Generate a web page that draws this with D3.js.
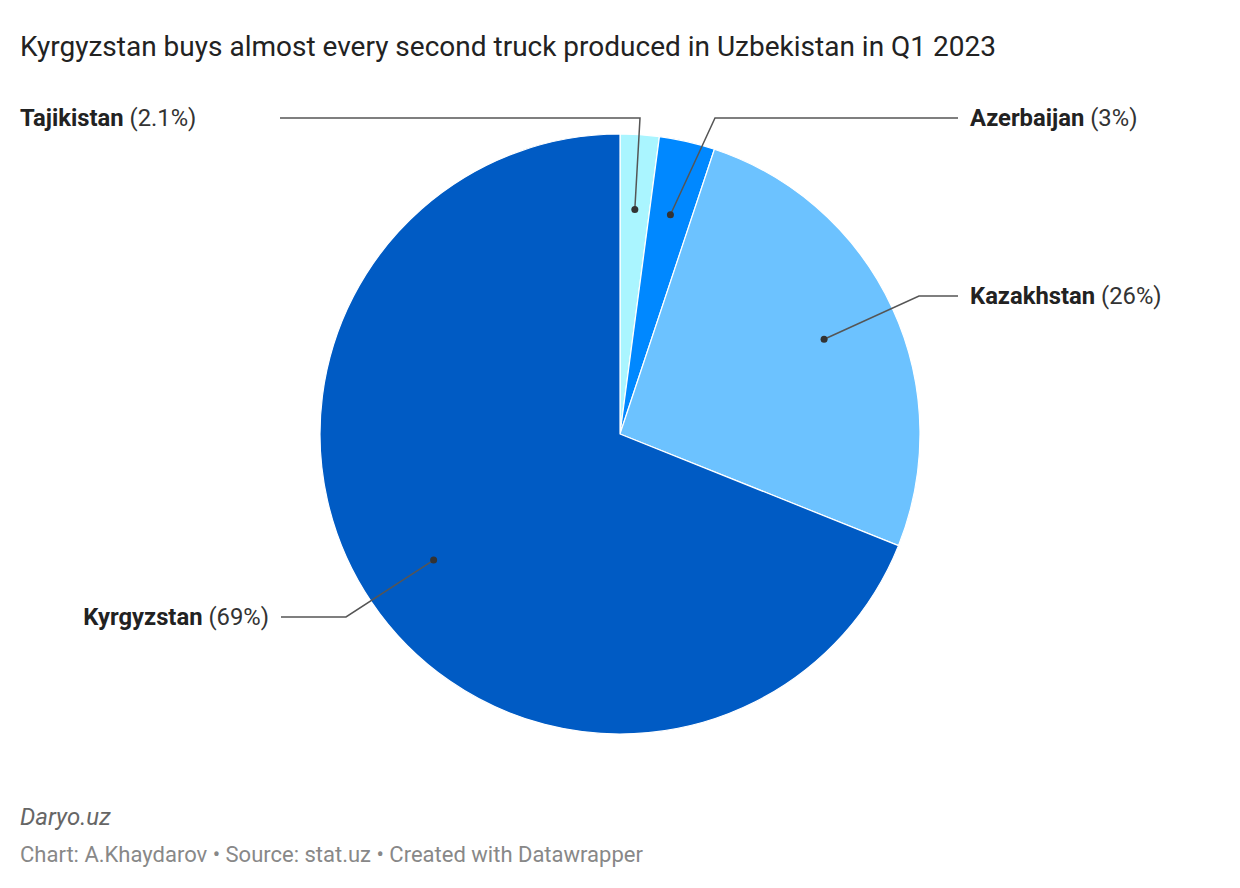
<!DOCTYPE html>
<html><head><meta charset="utf-8">
<script src="https://cdn.jsdelivr.net/npm/d3@7"></script>
<style>
body{margin:0;background:#fff;font-family:Roboto,"Noto Sans",sans-serif;}
</style></head><body>
<svg id="c" width="1240" height="888"></svg>
<script>
const countries = ["Tajikistan", "Azerbaijan", "Kazakhstan", "Kyrgyzstan"];
const values = [2.1, 3, 26, 69];
const valueLabels = ["2.1%", "3%", "26%", "69%"];
const colors = ["#aaf5ff", "#0088ff", "#6cc2ff", "#005bc4"];

// label layout: elbow point, line end, text position, anchor
const layout = [
  {elbow:[640,118], end:[280,118], tx:20, anchor:"start"},
  {elbow:[715,118], end:[958,118], tx:970, anchor:"start"},
  {elbow:[919,296], end:[958,296], tx:970, anchor:"start"},
  {elbow:[346,617], end:[281,617], tx:269, anchor:"end"}
];

const svg = d3.select("#c");
const cx = 620, cy = 434, R = 300;

svg.append("text").attr("x",20).attr("y",56)
  .attr("font-size",28).attr("fill","#222").attr("font-family","Roboto")
  .text("Kyrgyzstan buys almost every second truck produced in Uzbekistan in Q1 2023");

const data = countries.map((c,i)=>({name:c, value:values[i], label:valueLabels[i], color:colors[i], i}));
const pie = d3.pie().value(d=>d.value).sort(null);
const arcs = pie(data);
const arc = d3.arc().innerRadius(0).outerRadius(R);
const dotArc = d3.arc().innerRadius(R*0.75).outerRadius(R*0.75);

const g = svg.append("g").attr("transform",`translate(${cx},${cy})`);
g.selectAll("path.slice").data(arcs).enter().append("path")
  .attr("d",arc).attr("fill",d=>d.data.color)
  .attr("stroke","#fff").attr("stroke-width",1.2).attr("stroke-linejoin","round");

arcs.forEach((a,i)=>{
  const [dx,dy] = dotArc.centroid(a);
  const px = cx+dx, py = cy+dy;
  const L = layout[i];
  svg.append("polyline")
    .attr("points",[[px,py],L.elbow,L.end].map(p=>p.join(",")).join(" "))
    .attr("fill","none").attr("stroke","#555").attr("stroke-width",1.5);
  svg.append("circle").attr("cx",px).attr("cy",py).attr("r",3.5).attr("fill","#333");
  const t = svg.append("text").attr("x",L.tx).attr("y",L.end[1]+8)
    .attr("text-anchor",L.anchor).attr("font-size",23.8).attr("fill","#222");
  t.append("tspan").attr("font-weight","bold").text(a.data.name);
  t.append("tspan").attr("fill","#333").text(" ("+a.data.label+")");
});

svg.append("text").attr("x",20).attr("y",825).attr("font-size",24)
  .attr("font-style","italic").attr("fill","#666").text("Daryo.uz");
svg.append("text").attr("x",20).attr("y",862).attr("font-size",22)
  .attr("fill","#888").text("Chart: A.Khaydarov • Source: stat.uz • Created with Datawrapper");
</script>
</body></html>
